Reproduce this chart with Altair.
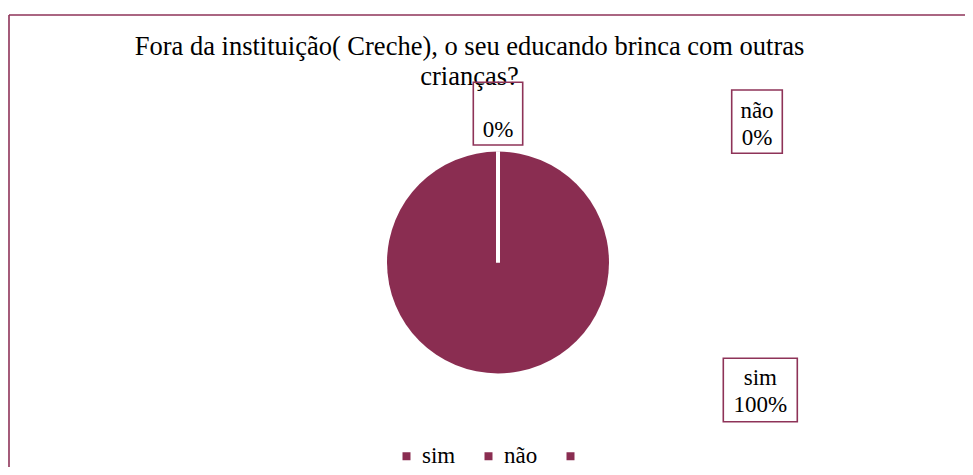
import altair as alt
import pandas as pd

# ---- data ----
categories = ["sim", "não", ""]
values = [100, 0, 0]
title_lines = ["Fora da instituição( Creche), o seu educando brinca com outras", "crianças?"]

COLOR = "#8A2D51"
BORDER = "#8E3358"
FONT = "Liberation Serif"

total = sum(values)
df = pd.DataFrame({
    "cat": categories,
    "value": values,
    "idx": list(range(len(categories))),
})
df["label"] = [f"{c}\n{round(v * 100 / total)}%" for c, v in zip(categories, values)]

W, H = 957, 459
one = alt.Data(values=[{}])

# frame (only top and left edges are visible in the reference crop)
top_rule = alt.Chart(one).mark_rule(color=BORDER, strokeWidth=1.6).encode(
    x=alt.value(1), x2=alt.value(W), y=alt.value(7))
left_rule = alt.Chart(one).mark_rule(color=BORDER, strokeWidth=1.6).encode(
    x=alt.value(1), y=alt.value(7), y2=alt.value(H))

title = alt.Chart(one).mark_text(
    font=FONT, fontSize=26.5, color="black", align="center",
    baseline="alphabetic", lineHeight=30,
).encode(x=alt.value(461.5), y=alt.value(47), text=alt.value(title_lines))

pie = alt.Chart(df).mark_arc(radius=111, stroke="white").encode(
    theta=alt.Theta("value:Q", stack=True),
    order=alt.Order("idx:Q"),
    color=alt.Color(
        "cat:N",
        scale=alt.Scale(domain=categories, range=[COLOR] * len(categories)),
        sort=categories,
        legend=alt.Legend(
            title=None, orient="none", legendX=387, legendY=436.5,
            direction="horizontal", symbolType="square", symbolSize=64,
            symbolStrokeWidth=0, labelFont=FONT, labelFontSize=23,
            labelColor="black", labelOffset=4, columnPadding=21, padding=0,
        ),
    ),
    strokeWidth=alt.condition("datum.value == 0", alt.value(4), alt.value(0)),
    x=alt.value(490),
    y=alt.value(254.5),
)

# label boxes (positions as placed in the reference)
box_pos = {
    "": (465.3, 514.7, 74.3, 137.0),
    "não": (723.7, 774.3, 82.0, 145.3),
    "sim": (715.3, 789.3, 350.3, 413.7),
}
text_pos = {
    "": (490.0, 101.7),
    "não": (749.0, 110.0),
    "sim": (752.3, 377.0),
}

layers = [top_rule, left_rule, title, pie]
for cat in categories:
    x1, x2, y1, y2 = box_pos[cat]
    layers.append(
        alt.Chart(one).mark_rect(filled=False, stroke=BORDER, strokeWidth=1.6).encode(
            x=alt.value(x1), x2=alt.value(x2), y=alt.value(y1), y2=alt.value(y2))
    )
    tx, ty = text_pos[cat]
    layers.append(
        alt.Chart(df).transform_filter(alt.datum.cat == cat).mark_text(
            font=FONT, fontSize=23, color="black", align="center",
            baseline="alphabetic", lineBreak="\n", lineHeight=27,
        ).encode(x=alt.value(tx), y=alt.value(ty), text="label:N")
    )

chart = alt.layer(*layers).properties(
    width=W, height=H,
    autosize=alt.AutoSizeParams(type="none"),
    padding=0,
    background="white",
).configure_view(stroke=None)

chart.save("out.html", embed_options={"renderer": "svg", "actions": False})
